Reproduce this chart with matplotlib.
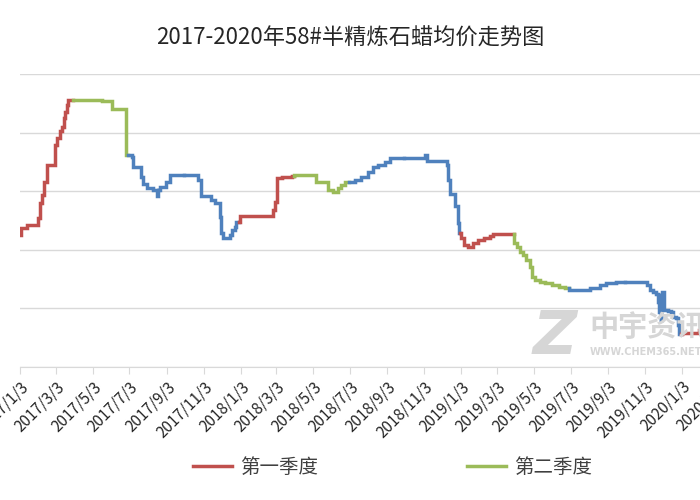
import pandas as pd
import matplotlib
matplotlib.use('Agg')
from matplotlib import pyplot as plt
from matplotlib.lines import Line2D

plt.rcParams['font.family'] = ['Noto Sans CJK SC', 'DejaVu Sans']

# price change points (yuan/ton)
change_dates = [
    '2017-01-03', '2017-01-05', '2017-01-14', '2017-02-02', '2017-02-05', '2017-02-08',
    '2017-02-12', '2017-02-16', '2017-03-02', '2017-03-05', '2017-03-10', '2017-03-13',
    '2017-03-16', '2017-03-18', '2017-03-21', '2017-03-24', '2017-05-18', '2017-06-04',
    '2017-06-28', '2017-07-07', '2017-07-09', '2017-07-23', '2017-07-26', '2017-08-01',
    '2017-08-11', '2017-08-17', '2017-08-19', '2017-08-22', '2017-09-02', '2017-09-08',
    '2017-10-25', '2017-10-30', '2017-11-15', '2017-11-21', '2017-11-30', '2017-12-02',
    '2017-12-05', '2017-12-16', '2017-12-19', '2017-12-25', '2017-12-27', '2018-01-02',
    '2018-02-26', '2018-03-01', '2018-03-04', '2018-03-05', '2018-03-12', '2018-03-29',
    '2018-04-02', '2018-05-08', '2018-05-27', '2018-06-05', '2018-06-13', '2018-06-18',
    '2018-06-24', '2018-07-11', '2018-07-22', '2018-08-02', '2018-08-10', '2018-08-19',
    '2018-08-30', '2018-09-07', '2018-11-04', '2018-11-08', '2018-12-10', '2018-12-12',
    '2018-12-15', '2018-12-24', '2018-12-28', '2018-12-30', '2019-01-03', '2019-01-08',
    '2019-01-14', '2019-01-22', '2019-01-30', '2019-02-10', '2019-02-19', '2019-02-24',
    '2019-04-01', '2019-04-05', '2019-04-10', '2019-04-16', '2019-04-21', '2019-04-27',
    '2019-04-30', '2019-05-05', '2019-05-14', '2019-05-22', '2019-06-02', '2019-06-13',
    '2019-06-24', '2019-07-01', '2019-08-04', '2019-08-20', '2019-08-31', '2019-09-16',
    '2019-11-06', '2019-11-11', '2019-11-16', '2019-11-22', '2019-11-24', '2019-11-27',
    '2019-11-29', '2019-11-30', '2019-12-02', '2019-12-04', '2019-12-11', '2019-12-16',
    '2019-12-19', '2019-12-25', '2019-12-27', '2019-12-30', '2020-01-04', '2020-02-01',
]
prices = [
    7250, 7370, 7430, 7540, 7800, 7930,
    8160, 8450, 8790, 8910, 9020, 9100,
    9250, 9360, 9470, 9560, 9540, 9400,
    8620, 8590, 8420, 8250, 8130, 8050,
    8020, 7910, 8020, 8080, 8160, 8280,
    8190, 7910, 7850, 7800, 7560, 7280,
    7200, 7250, 7340, 7390, 7480, 7570,
    7680, 7820, 7960, 8220, 8240, 8260,
    8280, 8160, 8020, 7990, 8050, 8110,
    8150, 8190, 8250, 8330, 8420, 8450,
    8500, 8560, 8620, 8520, 8450, 8190,
    7960, 7740, 7450, 7280, 7200, 7080,
    7050, 7110, 7170, 7200, 7230, 7270,
    7120, 7050, 6970, 6910, 6820, 6710,
    6540, 6480, 6450, 6430, 6400, 6370,
    6340, 6320, 6340, 6400, 6430, 6450,
    6400, 6310, 6280, 6250, 6110, 5940,
    5770, 6230, 6280, 5970, 5960, 5940,
    5850, 5830, 5710, 5570, 5580, 5630,
]
end_date = '2020-02-28'

quarter_names = ['第一季度', '第二季度', '第三季度', '第四季度']
quarter_colors = ['#C0504D', '#9BBB59', '#4F81BD', '#4F81BD']
y_ticks = [5000, 6000, 7000, 8000, 9000, 10000]
title = '2017-2020年58#半精炼石蜡均价走势图'


def quarter_segments(s, end):
    # split the step series by quarter, each piece joined to the previous one
    segs = []
    for q in pd.period_range(s.index[0], end, freq='Q'):
        q0 = max(q.start_time, s.index[0])
        q1 = min(q.end_time.normalize() + pd.Timedelta(days=1), end)
        before = s[s.index < q0]
        inside = s[(s.index >= q0) & (s.index < q1)]
        x = list(inside.index)
        y = list(inside.values)
        if len(before):
            x = [q0] + x
            y = [before.iloc[-1]] + y
        x.append(q1)
        y.append(y[-1])
        segs.append((q.quarter, x, y))
    return segs


def main():
    s = pd.Series(prices, index=pd.to_datetime(change_dates))
    end = pd.Timestamp(end_date)

    fig = plt.figure(figsize=(7, 5), dpi=100)
    ax = fig.add_axes([20 / 700, 1 - 367 / 500, 715 / 700, 293 / 500])

    # watermark
    fig.text(555 / 700, 1 - 337 / 500, 'Z', fontsize=44, fontweight='bold', style='italic',
             color='#d6d6d6', ha='center', va='center', family='DejaVu Sans', zorder=0)
    fig.text(589 / 700, 1 - 327 / 500, '中宇资讯', fontsize=21, fontweight='bold',
             color='#d6d6d6', ha='left', va='center', zorder=0)
    fig.text(590 / 700, 1 - 352 / 500, 'WWW.CHEM365.NET', fontsize=7, fontweight='bold',
             color='#d6d6d6', ha='left', va='center', family='DejaVu Sans', zorder=0)
    ax.patch.set_alpha(0)

    for q, x, y in quarter_segments(s, end):
        ax.plot(x, y, drawstyle='steps-post', color=quarter_colors[q - 1], lw=2.5,
                solid_joinstyle='miter', zorder=3)

    ax.set_xlim(pd.Timestamp('2017-01-03'), pd.Timestamp('2020-03-31'))
    ax.set_ylim(y_ticks[0], y_ticks[-1])
    ax.set_yticks(y_ticks)
    ax.set_yticklabels([str(v) for v in y_ticks], fontsize=11, color='#262626')
    ax.tick_params(axis='y', length=0, pad=17)

    xt = pd.date_range('2017-01-01', '2020-03-01', freq='2MS') + pd.Timedelta(days=2)
    ax.set_xticks(xt)
    ax.set_xticklabels([f'{d.year}/{d.month}/{d.day}' for d in xt], rotation=45,
                       ha='right', rotation_mode='anchor', fontsize=11, color='#262626')
    ax.tick_params(axis='x', length=5, color='#d9d9d9', pad=3)

    ax.grid(axis='y', color='#d9d9d9', lw=1)
    ax.set_axisbelow(True)
    for side in ['top', 'right', 'left']:
        ax.spines[side].set_visible(False)
    ax.spines['bottom'].set_color('#d9d9d9')

    fig.text(350 / 700, 1 - 38 / 500, title, fontsize=16, color='#262626',
             ha='center', va='center')

    handles = [Line2D([], [], color=quarter_colors[i], lw=2.5) for i in range(2)]
    fig.legend(handles, quarter_names[:2], loc='center left',
               bbox_to_anchor=(193 / 700, 1 - 467 / 500), ncol=2, frameon=False,
               fontsize=14, handlelength=2.0, handletextpad=0.4, columnspacing=7.7,
               borderpad=0, borderaxespad=0, labelcolor='#404040')

    fig.savefig('out.png', dpi=100)
    plt.close(fig)


if __name__ == '__main__':
    main()
